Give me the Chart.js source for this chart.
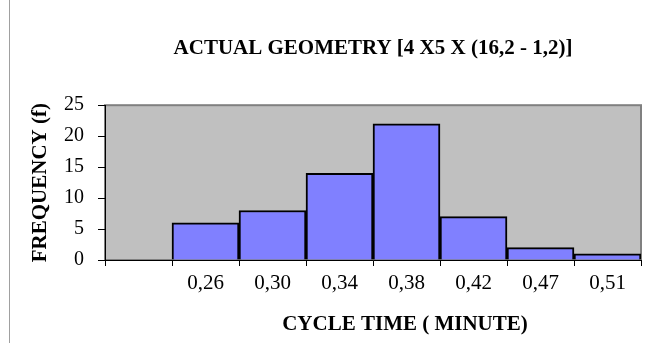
<!DOCTYPE html>
<html>
<head>
<meta charset="utf-8">
<script src="https://cdn.jsdelivr.net/npm/chart.js@4"></script>
<style>
  html, body { margin: 0; padding: 0; background: #fff; }
  #wrap { width: 659px; height: 343px; }
</style>
</head>
<body>
<div id="wrap"><canvas id="myChart"></canvas></div>
<script>
// cycle time classes (first slot is left blank on the axis)
var classLabels = ['', '0,26', '0,30', '0,34', '0,38', '0,42', '0,47', '0,51'];
var frequency = [0, 6, 8, 14, 22, 7, 2, 1];
var yTicks = [0, 5, 10, 15, 20, 25];
var xTitle = 'CYCLE TIME ( MINUTE)';

var serif = "'Liberation Serif', 'Times New Roman', serif";

// grey plot area + frame line on the left of the picture
var plotBack = {
    id: 'plotBack',
    beforeDraw: function(chart) {
        var ctx = chart.ctx, a = chart.chartArea;
        ctx.save();
        ctx.fillStyle = '#c0c0c0';
        ctx.fillRect(a.left, a.top, a.right - a.left, a.bottom - a.top);
        ctx.strokeStyle = '#808080';
        ctx.lineWidth = 2;
        ctx.strokeRect(a.left, a.top, a.right - a.left, a.bottom - a.top);
        ctx.strokeStyle = '#a0a0a0';
        ctx.lineWidth = 1;
        ctx.beginPath();
        ctx.moveTo(9.5, 0);
        ctx.lineTo(9.5, 343);
        ctx.stroke();
        ctx.restore();
    },
    // x axis title sits a bit right of the plot centre in the original
    afterDraw: function(chart) {
        var ctx = chart.ctx, a = chart.chartArea;
        ctx.save();
        ctx.fillStyle = '#000';
        ctx.font = 'bold 21px ' + serif;
        ctx.textAlign = 'center';
        ctx.textBaseline = 'middle';
        ctx.fillText(xTitle, (a.left + a.right) / 2 + 32, a.bottom + 65);
        ctx.restore();
    }
};

function createChart() {
    var ctx = document.getElementById('myChart').getContext('2d');
    new Chart(ctx, {
        type: 'bar',
        data: {
            labels: classLabels,
            datasets: [{
                data: frequency,
                backgroundColor: '#8080ff',
                borderColor: '#000000',
                borderWidth: 2,
                barPercentage: 1,
                categoryPercentage: 1
            }]
        },
        options: {
            responsive: false,
            animation: false,
            devicePixelRatio: 1,
            layout: { padding: { left: 0, right: 18, top: 0, bottom: 0 } },
            plugins: {
                legend: { display: false },
                tooltip: { enabled: false },
                title: {
                    display: true,
                    fullSize: false,
                    text: 'ACTUAL GEOMETRY [4 X5 X (16,2 - 1,2)]',
                    color: '#000',
                    font: { family: serif, size: 21, weight: 'bold', lineHeight: 1.2 },
                    padding: { top: 36, bottom: 44 }
                }
            },
            scales: {
                x: {
                    grid: {
                        display: true,
                        drawOnChartArea: false,
                        drawTicks: true,
                        tickLength: 6,
                        color: '#000',
                        offset: true
                    },
                    border: { display: true, color: '#000', width: 1 },
                    ticks: {
                        color: '#000',
                        font: { family: serif, size: 21 },
                        padding: 5,
                        maxRotation: 0,
                        autoSkip: false
                    },
                    afterFit: function(scale) { scale.height = 83; }
                },
                y: {
                    min: 0,
                    max: 25,
                    afterBuildTicks: function(scale) {
                        scale.ticks = yTicks.map(function(v) { return { value: v }; });
                    },
                    grid: {
                        display: true,
                        drawOnChartArea: false,
                        drawTicks: true,
                        tickLength: 7,
                        color: '#000'
                    },
                    border: { display: true, color: '#000', width: 1 },
                    ticks: {
                        color: '#000',
                        font: { family: serif, size: 20 },
                        padding: 14
                    },
                    title: {
                        display: true,
                        text: 'FREQUENCY (f)',
                        color: '#000',
                        font: { family: serif, size: 21, weight: 'bold', lineHeight: 1.2 },
                        padding: { top: 28, bottom: 0 }
                    },
                    afterFit: function(scale) { scale.width = 105; }
                }
            }
        },
        plugins: [plotBack]
    });
}

document.addEventListener('DOMContentLoaded', function() {
    var c = document.getElementById('myChart');
    c.width = 659;
    c.height = 343;
    createChart();
});
</script>
</body>
</html>
